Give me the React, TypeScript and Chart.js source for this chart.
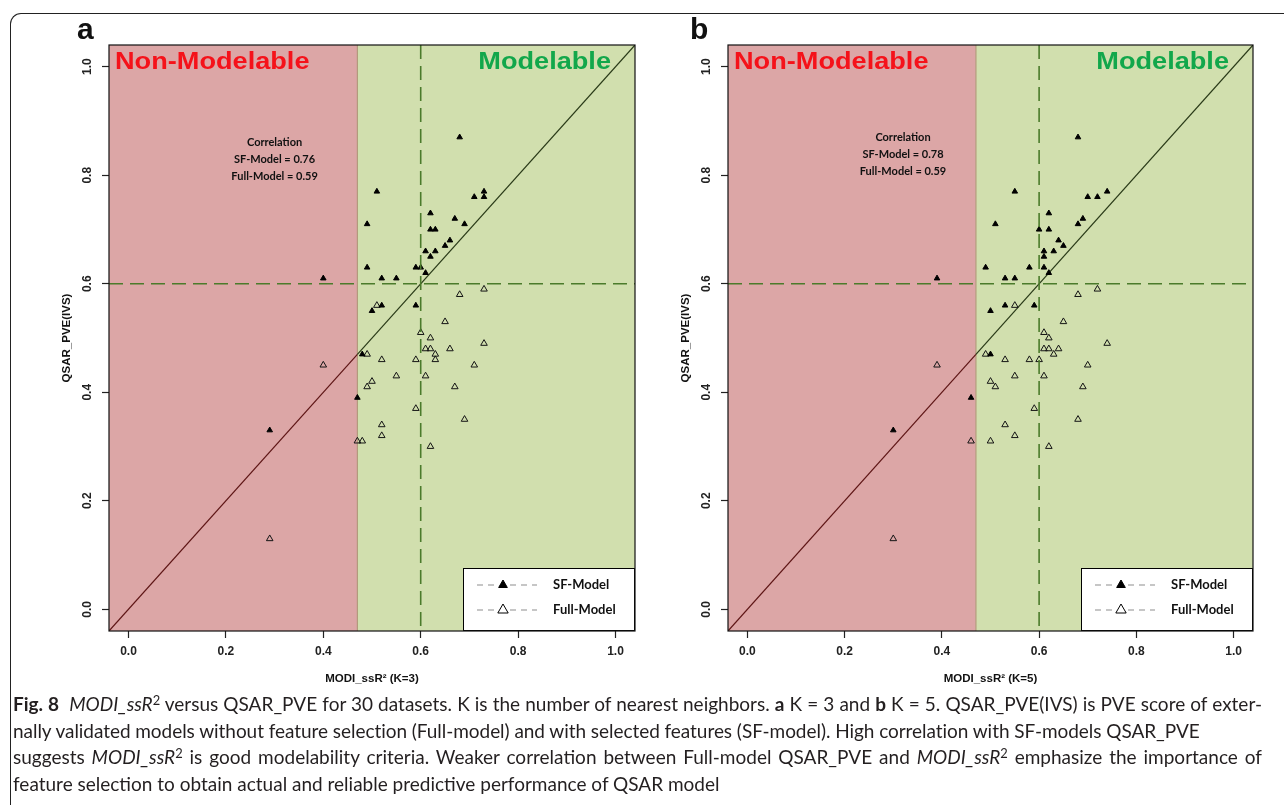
import React, { useEffect, useRef } from "react";
import { Chart, registerables } from "chart.js";
Chart.register(...registerables);

// ---------- data ----------
const X_TICKS = [0.0, 0.2, 0.4, 0.6, 0.8, 1.0];
const Y_TICKS = [0.0, 0.2, 0.4, 0.6, 0.8, 1.0];
const AXIS_MIN = -0.04;
const AXIS_MAX = 1.04;
const MODELABLE_CUTOFF = 0.47;
const MODI_CUTOFF = 0.6;
const PVE_CUTOFF = 0.6;
const DIAGONAL = [AXIS_MIN, MODELABLE_CUTOFF, AXIS_MAX];

const LEGEND_LABELS = ["SF-Model", "Full-Model"];
const REGION_LABELS = ["Non-Modelable", "Modelable"];
const CORR_A = ["Correlation", "SF-Model = 0.76", "Full-Model = 0.59"];
const CORR_B = ["Correlation", "SF-Model = 0.78", "Full-Model = 0.59"];

// Panel a (K=3)
const A_SF_X = [0.68, 0.51, 0.71, 0.73, 0.73, 0.62, 0.49, 0.62, 0.63, 0.67, 0.69, 0.66, 0.65, 0.61, 0.63, 0.62, 0.49, 0.59, 0.60, 0.61, 0.40, 0.52, 0.55, 0.52, 0.50, 0.59, 0.48, 0.47, 0.29];
const A_SF_Y = [0.87, 0.77, 0.76, 0.77, 0.76, 0.73, 0.71, 0.70, 0.70, 0.72, 0.71, 0.68, 0.67, 0.66, 0.66, 0.65, 0.63, 0.63, 0.63, 0.62, 0.61, 0.61, 0.61, 0.56, 0.55, 0.56, 0.47, 0.39, 0.33];
const A_FULL_X = [0.68, 0.73, 0.51, 0.65, 0.60, 0.62, 0.73, 0.61, 0.62, 0.66, 0.63, 0.49, 0.63, 0.52, 0.59, 0.71, 0.40, 0.55, 0.61, 0.50, 0.49, 0.67, 0.59, 0.69, 0.52, 0.52, 0.47, 0.48, 0.62, 0.29];
const A_FULL_Y = [0.58, 0.59, 0.56, 0.53, 0.51, 0.50, 0.49, 0.48, 0.48, 0.48, 0.47, 0.47, 0.46, 0.46, 0.46, 0.45, 0.45, 0.43, 0.43, 0.42, 0.41, 0.41, 0.37, 0.35, 0.34, 0.32, 0.31, 0.31, 0.30, 0.13];

// Panel b (K=5)
const B_SF_X = [0.68, 0.55, 0.70, 0.72, 0.74, 0.62, 0.51, 0.60, 0.62, 0.68, 0.69, 0.64, 0.65, 0.61, 0.63, 0.61, 0.49, 0.58, 0.61, 0.62, 0.39, 0.53, 0.55, 0.53, 0.50, 0.59, 0.50, 0.46, 0.30];
const B_SF_Y = [0.87, 0.77, 0.76, 0.76, 0.77, 0.73, 0.71, 0.70, 0.70, 0.71, 0.72, 0.68, 0.67, 0.66, 0.66, 0.65, 0.63, 0.63, 0.63, 0.62, 0.61, 0.61, 0.61, 0.56, 0.55, 0.56, 0.47, 0.39, 0.33];
const B_FULL_X = [0.68, 0.72, 0.55, 0.65, 0.61, 0.62, 0.74, 0.61, 0.62, 0.64, 0.63, 0.49, 0.53, 0.58, 0.60, 0.70, 0.39, 0.55, 0.61, 0.50, 0.51, 0.69, 0.59, 0.68, 0.53, 0.55, 0.46, 0.50, 0.62, 0.30];
const B_FULL_Y = [0.58, 0.59, 0.56, 0.53, 0.51, 0.50, 0.49, 0.48, 0.48, 0.48, 0.47, 0.47, 0.46, 0.46, 0.46, 0.45, 0.45, 0.43, 0.43, 0.42, 0.41, 0.41, 0.37, 0.35, 0.34, 0.32, 0.31, 0.31, 0.30, 0.13];

// ---------- styling ----------
const PINK = "#dca6a6";
const GREEN = "#d1dfae";
const CUT_COLOR = "#4b7b2b";
const CANVAS_H = 700;
const TICK_FONT = { family: "'Liberation Sans', Arial, sans-serif", size: 12, weight: "bold" as const };
const TITLE_FONT = { family: "'Liberation Sans', Arial, sans-serif", size: 11.5, weight: "bold" as const };
const LABEL_FAMILY = "Lato, 'Open Sans', sans-serif";

type Panel = {
  letter: string;
  xTitle: string;
  sfX: number[]; sfY: number[]; fullX: number[]; fullY: number[];
  corr: string[];
  corrX: number; corrY: number;
  canvasLeft: number; canvasWidth: number;
  yAxisWidth: number; rightPad: number; yTitlePad: number;
};

const PANELS: Panel[] = [
  { letter: "a", xTitle: "MODI_ssR\u00B2 (K=3)", sfX: A_SF_X, sfY: A_SF_Y, fullX: A_FULL_X, fullY: A_FULL_Y,
    corr: CORR_A, corrX: 0.30, corrY: 0.86, canvasLeft: 0, canvasWidth: 640, yAxisWidth: 109, rightPad: 5, yTitlePad: 60 },
  { letter: "b", xTitle: "MODI_ssR\u00B2 (K=5)", sfX: B_SF_X, sfY: B_SF_Y, fullX: B_FULL_X, fullY: B_FULL_Y,
    corr: CORR_B, corrX: 0.32, corrY: 0.87, canvasLeft: 640, canvasWidth: 644, yAxisWidth: 88, rightPad: 31, yTitlePad: 39 },
];

function triangle(ctx: CanvasRenderingContext2D, x: number, y: number, r: number, fill: boolean) {
  ctx.beginPath();
  for (let i = 0; i < 3; i++) {
    const a = (i * 2 * Math.PI) / 3;
    const px = x + Math.sin(a) * r;
    const py = y - Math.cos(a) * r;
    if (i === 0) ctx.moveTo(px, py); else ctx.lineTo(px, py);
  }
  ctx.closePath();
  if (fill) { ctx.fillStyle = "#000"; ctx.fill(); }
  ctx.strokeStyle = "#000"; ctx.lineWidth = 1; ctx.stroke();
}

function makeDecor(p: Panel) {
  return {
    id: "decor_" + p.letter,
    beforeDatasetsDraw(chart: any) {
      const { ctx, chartArea: a, scales } = chart;
      const x = scales.x;
      const xc = x.getPixelForValue(MODELABLE_CUTOFF);
      ctx.save();
      ctx.fillStyle = PINK;
      ctx.fillRect(a.left, a.top, xc - a.left, a.bottom - a.top);
      ctx.fillStyle = GREEN;
      ctx.fillRect(xc, a.top, a.right - xc, a.bottom - a.top);
      ctx.strokeStyle = "#b39a7c"; ctx.lineWidth = 1.2;
      ctx.beginPath(); ctx.moveTo(xc, a.top); ctx.lineTo(xc, a.bottom); ctx.stroke();
      ctx.restore();
    },
    afterDatasetsDraw(chart: any) {
      const { ctx, chartArea: a, scales } = chart;
      const x = scales.x, y = scales.y;
      ctx.save();
      // cut-off dashed lines
      ctx.strokeStyle = CUT_COLOR; ctx.lineWidth = 1.6; ctx.setLineDash([14, 7]);
      const xv = x.getPixelForValue(MODI_CUTOFF), yv = y.getPixelForValue(PVE_CUTOFF);
      ctx.beginPath(); ctx.moveTo(xv, a.top); ctx.lineTo(xv, a.bottom); ctx.stroke();
      ctx.beginPath(); ctx.moveTo(a.left, yv); ctx.lineTo(a.right, yv); ctx.stroke();
      ctx.setLineDash([]);
      // region labels
      ctx.textBaseline = "alphabetic";
      ctx.font = "bold 23px 'Liberation Sans', Arial, sans-serif";
      ctx.save();
      ctx.translate(a.left + 6, a.top + 24);
      ctx.scale(1.18, 1);
      ctx.fillStyle = "#f5121a"; ctx.textAlign = "left";
      ctx.fillText(REGION_LABELS[0], 0, 0);
      ctx.restore();
      ctx.save();
      ctx.translate(a.right - 24, a.top + 24);
      ctx.scale(1.18, 1);
      ctx.fillStyle = "#12a74b"; ctx.textAlign = "right";
      ctx.fillText(REGION_LABELS[1], 0, 0);
      ctx.restore();
      // correlation text
      ctx.fillStyle = "#111"; ctx.textAlign = "center"; ctx.textBaseline = "middle";
      ctx.font = "bold 11px " + LABEL_FAMILY;
      const cx = x.getPixelForValue(p.corrX), cy = y.getPixelForValue(p.corrY);
      p.corr.forEach((t, i) => ctx.fillText(t, cx, cy + i * 17));
      // legend
      const LW = 172, LH = 63;
      const lx = a.right - LW, ly = a.bottom - LH;
      ctx.fillStyle = "#fff"; ctx.fillRect(lx, ly, LW, LH);
      ctx.strokeStyle = "#000"; ctx.lineWidth = 1;
      ctx.strokeRect(Math.round(lx) + 0.5, Math.round(ly) + 0.5, LW - 1, LH - 1);
      LEGEND_LABELS.forEach((t, i) => {
        const yy = ly + 17 + i * 25;
        ctx.strokeStyle = "#8e8e8e"; ctx.lineWidth = 1.1; ctx.setLineDash([6, 5]);
        ctx.beginPath(); ctx.moveTo(lx + 14, yy); ctx.lineTo(lx + 74, yy); ctx.stroke();
        ctx.setLineDash([]);
        ctx.fillStyle = "#fff"; ctx.fillRect(lx + 34, yy - 6, 12, 11);
        triangle(ctx, lx + 40, yy, i === 0 ? 5 : 6, i === 0);
        ctx.fillStyle = "#111"; ctx.textAlign = "left"; ctx.textBaseline = "middle";
        ctx.font = "bold 13px " + LABEL_FAMILY;
        ctx.fillText(t, lx + 90, yy);
      });
      // box
      ctx.strokeStyle = "#111"; ctx.lineWidth = 1.2;
      ctx.strokeRect(a.left, a.top, a.right - a.left, a.bottom - a.top);
      ctx.restore();
    },
  };
}

function PanelChart({ p }: { p: Panel }) {
  const ref = useRef<HTMLCanvasElement>(null);
  useEffect(() => {
    const sf = p.sfX.map((v, i) => ({ x: v, y: p.sfY[i] }));
    const full = p.fullX.map((v, i) => ({ x: v, y: p.fullY[i] }));
    const diag = DIAGONAL.map((v) => ({ x: v, y: v }));
    const chart = new Chart(ref.current as HTMLCanvasElement, {
      type: "scatter",
      data: {
        datasets: [
          { label: LEGEND_LABELS[0], data: sf, pointStyle: "triangle", pointRadius: 3.2, backgroundColor: "#000", borderColor: "#000", borderWidth: 1, order: 1 } as any,
          { label: LEGEND_LABELS[1], data: full, pointStyle: "triangle", pointRadius: 3.8, backgroundColor: "rgba(0,0,0,0)", borderColor: "#151515", borderWidth: 1, order: 2 } as any,
          { label: "y=x", data: diag, showLine: true, pointRadius: 0, borderWidth: 1.2, borderColor: "#2a3a18",
            segment: { borderColor: (c: any) => (c.p0.parsed.x < MODELABLE_CUTOFF ? "#5e1616" : "#2a3a18") }, order: 3 } as any,
        ],
      },
      options: {
        animation: false,
        responsive: false,
        events: [],
        layout: { padding: { top: 45, right: p.rightPad, left: 0, bottom: 0 } },
        plugins: { legend: { display: false }, tooltip: { enabled: false } },
        scales: {
          x: {
            type: "linear", min: AXIS_MIN, max: AXIS_MAX,
            afterBuildTicks: (s: any) => { s.ticks = X_TICKS.map((v) => ({ value: v })); },
            afterFit: (s: any) => { s.height = CANVAS_H - 631; },
            grid: { display: true, drawOnChartArea: false, drawTicks: true, tickLength: 7, tickColor: "#222", tickWidth: 1.2 },
            border: { display: false },
            ticks: { font: TICK_FONT, color: "#222", padding: 6, maxRotation: 0, callback: (v: any) => Number(v).toFixed(1) },
            title: { display: true, text: p.xTitle, font: TITLE_FONT, color: "#111", padding: { top: 0, bottom: 14 } },
          },
          y: {
            type: "linear", min: AXIS_MIN, max: AXIS_MAX,
            afterBuildTicks: (s: any) => { s.ticks = Y_TICKS.map((v) => ({ value: v })); },
            afterFit: (s: any) => { s.width = p.yAxisWidth; },
            grid: { display: true, drawOnChartArea: false, drawTicks: true, tickLength: 7, tickColor: "#222", tickWidth: 1.2 },
            border: { display: false },
            ticks: { font: TICK_FONT, color: "#222", padding: 6, minRotation: 90, maxRotation: 90, crossAlign: "center", callback: (v: any) => Number(v).toFixed(1) },
            title: { display: true, text: "QSAR_PVE(IVS)", font: TITLE_FONT, color: "#111", padding: { top: p.yTitlePad, bottom: 0 } },
          },
        },
      },
      plugins: [makeDecor(p)],
    } as any);
    return () => chart.destroy();
  }, []);
  return (
    <canvas ref={ref} width={p.canvasWidth} height={CANVAS_H}
      style={{ position: "absolute", left: p.canvasLeft, top: 0, width: p.canvasWidth, height: CANVAS_H }} />
  );
}

const sup = (t: string) => (<sup style={{ fontSize: "0.68em", lineHeight: 0, verticalAlign: "0.5em" }}>{t}</sup>);

export default function App() {
  const full: React.CSSProperties = { whiteSpace: "nowrap", height: 26.5, width: 1249, textAlign: "justify", textAlignLast: "justify" };
  return (
    <div style={{ position: "absolute", left: 0, top: 0, width: 1284, height: 805, overflow: "hidden", background: "#fff" }}>
      <div style={{ position: "absolute", left: 10, top: 13, width: 1300, height: 820, borderTop: "1.3px solid #222", borderLeft: "1.3px solid #222", borderTopLeftRadius: 11 }} />
      {PANELS.map((p) => (<PanelChart key={p.letter} p={p} />))}
      <div style={{ position: "absolute", left: 77, top: 12, font: "bold 30px 'Liberation Sans', Arial, sans-serif", color: "#111" }}>a</div>
      <div style={{ position: "absolute", left: 690, top: 12, font: "bold 30px 'Liberation Sans', Arial, sans-serif", color: "#111" }}>b</div>
      <div style={{ position: "absolute", left: 13, top: 691, width: 1268, fontFamily: "Lato, 'Open Sans', sans-serif", fontSize: 19, lineHeight: "26.5px", color: "#231f20" }}>
        <div style={full}><b>Fig. 8</b>&nbsp; <i>MODI_ssR</i>{sup("2")} versus QSAR_PVE for 30 datasets. K is the number of nearest neighbors. <b>a</b> K = 3 and <b>b</b> K = 5. QSAR_PVE(IVS) is PVE score of exter-</div>
        <div style={{ whiteSpace: "nowrap", height: 26.5, letterSpacing: "-0.05px" }}>nally validated models without feature selection (Full-model) and with selected features (SF-model). High correlation with SF-models QSAR_PVE</div>
        <div style={full}>suggests <i>MODI_ssR</i>{sup("2")} is good modelability criteria. Weaker correlation between Full-model QSAR_PVE and <i>MODI_ssR</i>{sup("2")} emphasize the importance of</div>
        <div style={{ whiteSpace: "nowrap", height: 26.5 }}>feature selection to obtain actual and reliable predictive performance of QSAR model</div>
      </div>
    </div>
  );
}
